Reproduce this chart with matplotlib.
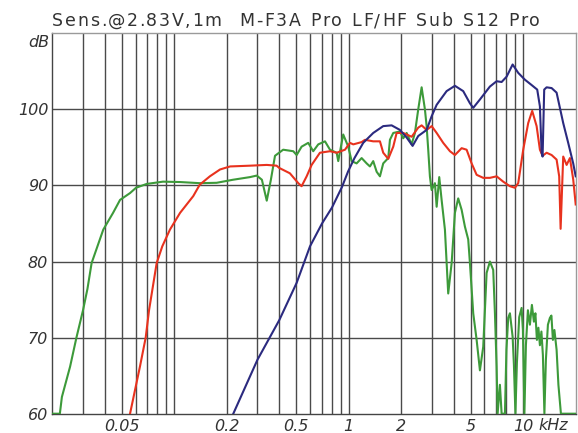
import numpy as np
import matplotlib
matplotlib.use("Agg")
import matplotlib.pyplot as plt

# frequency response curves, Hz / dB SPL
sub_f = [20, 22.1, 22.7, 25.3, 27.5, 30, 31.8, 33.6, 39.2, 44.6, 48.9, 55.8, 60.4, 69.5, 86.2,
         108, 140, 175, 217, 272, 297, 318, 339, 358, 378, 421, 481, 503, 537, 586, 626, 669,
         731, 781, 853, 871, 930, 994, 1039, 1110, 1186, 1267, 1323, 1382, 1446, 1510, 1577,
         1685, 1723, 1800, 1966, 2054, 2148, 2294, 2396, 2503, 2618, 2734, 2796, 2856, 2920,
         2988, 3120, 3192, 3303, 3408, 3560, 3718, 3890, 4062, 4242, 4438, 4634, 4842, 4952,
         5172, 5410, 5650, 5902, 6172, 6446, 6734, 6888, 7042, 7136, 7356, 7524, 7858, 8016,
         8208, 8396, 8700, 8850, 9026, 9206, 9490, 9794, 9964, 10164, 10366, 10644, 10928,
         11220, 11520, 11750, 11986, 12226, 12470, 12720, 12972, 13232, 13496, 13860, 14230,
         14514, 14804, 15100, 15542, 15920, 16456, 20000]
sub_db = [60, 60, 62.2, 66.2, 70.0, 73.6, 76.4, 79.8, 84.2, 86.4, 88.1, 89.0, 89.7, 90.2, 90.5,
          90.45, 90.3, 90.35, 90.75, 91.1, 91.3, 90.75, 88.0, 90.75, 93.9, 94.7, 94.5, 94.0, 95.1,
          95.6, 94.5, 95.4, 95.8, 94.7, 94.3, 93.2, 96.7, 95.1, 93.2, 92.9, 93.6, 92.9, 92.5,
          93.2, 91.8, 91.2, 92.9, 93.6, 96.0, 96.9, 97.1, 96.2, 96.9, 95.4, 96.9, 100.0, 102.9,
          100.0, 97.8, 94.7, 91.2, 89.4, 90.3, 87.2, 91.1, 88.1, 84.2, 75.8, 79.8, 86.4, 88.3,
          86.8, 84.6, 82.9, 79.8, 73.2, 69.7, 65.7, 68.8, 78.5, 80.0, 78.9, 73.2, 66.2, 60,
          63.8, 60, 60, 68.4, 72.6, 73.2, 70.1, 66.4, 60, 66.7, 72.7, 73.9, 71.0, 60, 69.0,
          73.6, 71.7, 74.3, 72.1, 73.2, 69.7, 71.3, 69.0, 70.8, 67.7, 60, 67.1, 71.7, 72.6,
          72.9, 69.7, 71.0, 68.4, 63.8, 60, 60]

lf_f = [55.8, 63.6, 68.6, 71.7, 79.3, 85.4, 94.5, 108, 128.5, 140, 160, 183, 209, 272, 339,
        386, 400, 460, 514, 537, 574, 613, 684, 781, 853, 952, 1016, 1062, 1186, 1239, 1382,
        1510, 1577, 1685, 1800, 1882, 2054, 2294, 2503, 2618, 2796, 2988, 3192, 3480, 3804,
        4062, 4438, 4740, 5064, 5410, 5902, 6446, 7042, 7682, 8396, 8968, 9366, 10004, 10686,
        11264, 11940, 12470, 12920, 13622, 14554, 15542, 16086, 16390, 16962, 17742, 18530,
        19352, 20000]
lf_db = [60, 66.2, 70.0, 73.6, 79.8, 82.0, 84.2, 86.4, 88.6, 90.1, 91.2, 92.1, 92.5, 92.6,
         92.7, 92.6, 92.3, 91.6, 90.3, 89.9, 91.2, 92.7, 94.3, 94.5, 94.3, 94.7, 95.6, 95.4,
         95.7, 96.0, 95.8, 95.8, 94.3, 93.5, 95.1, 96.9, 96.9, 96.4, 97.6, 97.9, 97.3, 97.8,
         96.9, 95.6, 94.5, 94.0, 94.9, 94.7, 92.9, 91.4, 91.0, 91.0, 91.2, 90.5, 89.9, 89.7,
         90.3, 94.7, 98.2, 99.8, 97.8, 94.7, 93.9, 94.3, 94.0, 93.4, 91.2, 84.3, 93.8, 92.7,
         93.6, 90.8, 87.5]

hf_f = [218, 300, 400, 503, 600, 703, 802, 915, 990, 1079, 1211, 1382, 1577, 1762, 1966,
        2148, 2324, 2503, 2796, 2988, 3192, 3640, 4062, 4532, 4952, 5172, 5650, 6446, 7042,
        7524, 8036, 8700, 9366, 10232, 11178, 12036, 12470, 12754, 12920, 13198, 13622,
        14554, 15542, 16962, 18116, 19352, 20000]
hf_db = [60, 67.1, 72.3, 77.2, 82.0, 85.0, 87.1, 89.8, 91.8, 93.6, 95.6, 96.9, 97.8, 97.9,
         97.3, 96.3, 95.2, 96.5, 97.3, 99.1, 100.6, 102.4, 103.1, 102.4, 100.8, 100.2, 101.3,
         103.0, 103.7, 103.6, 104.3, 105.9, 104.8, 103.9, 103.2, 102.6, 100.4, 94.3, 93.8,
         102.6, 102.9, 102.8, 102.2, 98.2, 95.6, 92.9, 91.2]

x_ticks = [50, 200, 500, 1000, 2000, 5000, 10000]
x_labels = ["0.05", "0.2", "0.5", "1", "2", "5", "10"]
y_ticks = [60, 70, 80, 90, 100]

title = "Sens.@2.83V,1m  M-F3A Pro LF/HF Sub S12 Pro"

W, H = 578, 433
fig = plt.figure(figsize=(W / 100, H / 100), dpi=100)
ax = fig.add_axes([52.3 / W, 1 - 413.7 / H, (575.7 - 52.3) / W, (413.7 - 33.3) / H])

ax.set_xscale("log")
ax.set_xlim(20, 20000)
ax.set_ylim(60, 110)

grid_c = "#4a4a4a"
for e in (1, 2, 3, 4):
    for m in range(1, 10):
        f = m * 10 ** e
        if 20 < f < 20000:
            ax.axvline(f, color=grid_c, lw=1.0, zorder=1)
for y in (70, 80, 90, 100):
    ax.axhline(y, color=grid_c, lw=1.0, zorder=1)

ax.plot(sub_f, sub_db, color="#3d9a3a", lw=1.5, zorder=3)
ax.plot(lf_f, lf_db, color="#e8321e", lw=1.5, zorder=4)
ax.plot(hf_f, hf_db, color="#2b2a7f", lw=1.5, zorder=5)

ax.set_xticks(x_ticks)
ax.set_xticklabels(x_labels)
ax.xaxis.set_minor_locator(matplotlib.ticker.NullLocator())
ax.set_yticks(y_ticks)
ax.tick_params(length=0, labelsize=11.5, labelcolor="#333333")
ax.tick_params(axis="x", pad=4)
ax.tick_params(axis="y", pad=3)
for lab in ax.get_xticklabels() + ax.get_yticklabels():
    lab.set_fontstyle("italic")

ax.text(-0.006, 108.8, "dB", transform=ax.get_yaxis_transform(), ha="right", va="center",
        fontsize=11.5, style="italic", color="#333333")
ax.text(14800, -0.0315, "kHz", transform=ax.get_xaxis_transform(), ha="center", va="center",
        fontsize=11.5, style="italic", color="#333333")

for side in ("left", "bottom"):
    ax.spines[side].set_color("#444444")
for side in ("top", "right"):
    ax.spines[side].set_color("#9a9a9a")
for s in ax.spines.values():
    s.set_linewidth(1.0)


def tracked_text(s, x0, x1, y, **kw):
    # spread characters evenly so the line runs from x0 to x1 (pixels)
    r = fig.canvas.get_renderer()
    widths = []
    for ch in s:
        t = fig.text(0, 0, ch if ch != " " else "n", **kw)
        w = t.get_window_extent(r).width
        widths.append(w * 0.6 if ch == " " else w)
        t.remove()
    gap = (x1 - x0 - sum(widths)) / (len(s) - 1)
    x = x0
    for ch, w in zip(s, widths):
        if ch != " ":
            fig.text(x / W, 1 - y / H, ch, ha="left", va="center", **kw)
        x += w + gap


tracked_text(title, 52.3, 540, 21, fontsize=12.5, color="#333333")

fig.savefig("out.png", dpi=100)
